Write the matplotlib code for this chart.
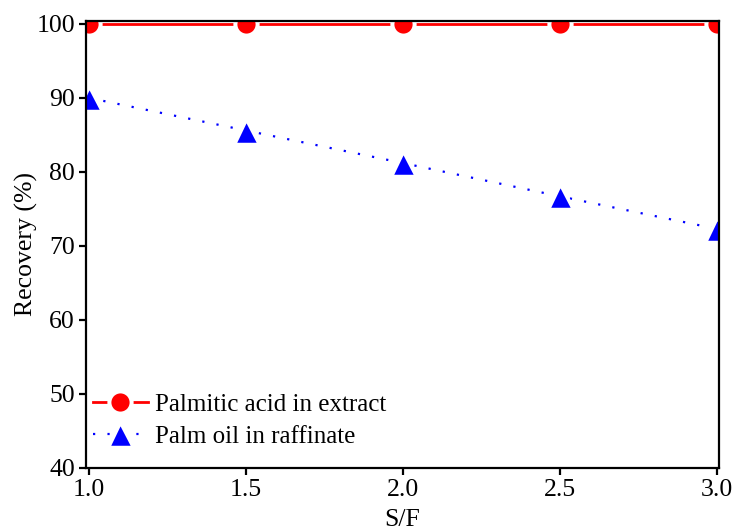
import matplotlib.pyplot as plt

# solvent-to-feed ratio and recoveries
sf = [1.0, 1.5, 2.0, 2.5, 3.0]
palmitic_extract = [100.0, 100.0, 100.0, 100.0, 100.0]
palm_oil_raffinate = [90.0, 85.6, 81.2, 76.7, 72.3]

plt.rcParams['font.family'] = ['Liberation Serif', 'DejaVu Serif']
plt.rcParams['font.size'] = 18.5

fig = plt.figure(figsize=(7.33, 5.30), dpi=100)
ax = fig.add_axes([0.1173, 0.117, 0.8636, 0.8434])

# white marker edges leave a small gap between line and marker
ax.plot(sf, palmitic_extract, color='red', lw=2, marker='o', ms=16,
        mfc='red', mec='white', mew=2.9, label='Palmitic acid in extract')
ax.plot(sf, palm_oil_raffinate, color='blue', lw=1.6, ls=(0, (1, 5.5)),
        marker='^', ms=18, mfc='blue', mec='white', mew=2.5,
        label='Palm oil in raffinate')

ax.set_xlim(0.99, 3.006)
ax.set_ylim(40, 100.4)
ax.set_xticks([1.0, 1.5, 2.0, 2.5, 3.0])
ax.set_yticks([40, 50, 60, 70, 80, 90, 100])
ax.tick_params(direction='out', length=5, width=1.6, pad=3)
for s in ax.spines.values():
    s.set_linewidth(1.6)

ax.set_xlabel('S/F', labelpad=6)
ax.set_ylabel('Recovery (%)', labelpad=-1)

ax.legend(loc='upper left', bbox_to_anchor=(-0.005, 0.19), frameon=False,
          fontsize=18, handlelength=2.2, handletextpad=0.3,
          labelspacing=0.4, borderaxespad=0)

fig.savefig('out.png', dpi=100)
